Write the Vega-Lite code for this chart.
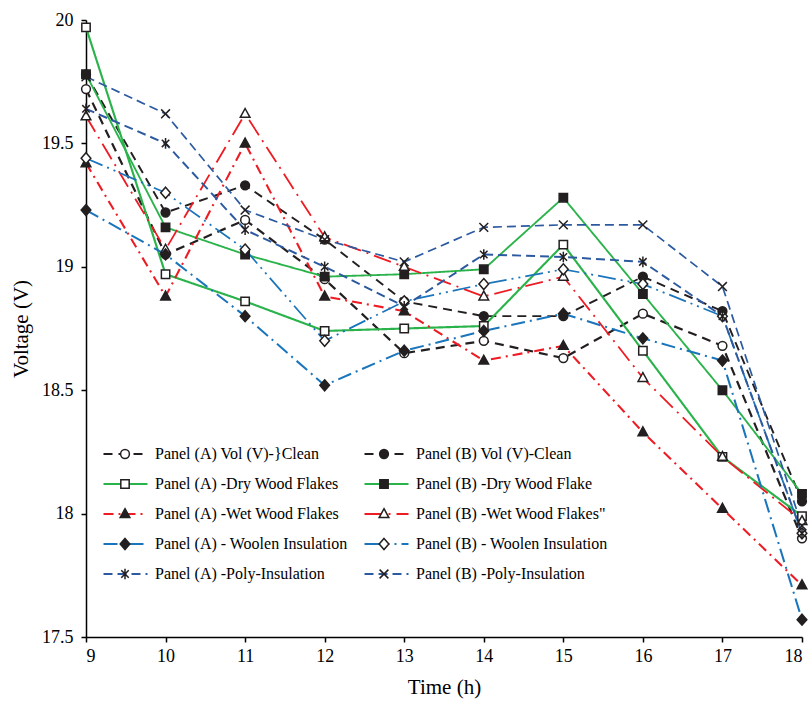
{
  "$schema": "https://vega.github.io/schema/vega-lite/v6.json",
  "width": 716,
  "height": 617,
  "autosize": {"type": "none"},
  "padding": {"left": 86, "top": 20, "right": 10, "bottom": 65},
  "config": {
    "font": "Liberation Serif",
    "view": {"stroke": null},
    "axis": {
      "grid": false,
      "domainColor": "black",
      "domainWidth": 1.5,
      "tickColor": "black",
      "tickWidth": 1.5,
      "tickSize": 5,
      "labelColor": "black",
      "labelFontSize": 18,
      "labelFont": "Liberation Serif",
      "titleColor": "black",
      "titleFont": "Liberation Serif",
      "titleFontSize": 21,
      "titleFontWeight": "normal"
    }
  },
  "data": {
    "values": [
      {"t": 9, "s": "Panel (A) Vol (V)-}Clean", "v": 19.72},
      {"t": 10, "s": "Panel (A) Vol (V)-}Clean", "v": 19.05},
      {"t": 11, "s": "Panel (A) Vol (V)-}Clean", "v": 19.19},
      {"t": 12, "s": "Panel (A) Vol (V)-}Clean", "v": 18.95},
      {"t": 13, "s": "Panel (A) Vol (V)-}Clean", "v": 18.65},
      {"t": 14, "s": "Panel (A) Vol (V)-}Clean", "v": 18.70},
      {"t": 15, "s": "Panel (A) Vol (V)-}Clean", "v": 18.63},
      {"t": 16, "s": "Panel (A) Vol (V)-}Clean", "v": 18.81},
      {"t": 17, "s": "Panel (A) Vol (V)-}Clean", "v": 18.68},
      {"t": 18, "s": "Panel (A) Vol (V)-}Clean", "v": 17.90},
      {"t": 9, "s": "Panel (B) Vol (V)-Clean", "v": 19.78},
      {"t": 10, "s": "Panel (B) Vol (V)-Clean", "v": 19.22},
      {"t": 11, "s": "Panel (B) Vol (V)-Clean", "v": 19.33},
      {"t": 12, "s": "Panel (B) Vol (V)-Clean", "v": 19.11},
      {"t": 13, "s": "Panel (B) Vol (V)-Clean", "v": 18.86},
      {"t": 14, "s": "Panel (B) Vol (V)-Clean", "v": 18.80},
      {"t": 15, "s": "Panel (B) Vol (V)-Clean", "v": 18.80},
      {"t": 16, "s": "Panel (B) Vol (V)-Clean", "v": 18.96},
      {"t": 17, "s": "Panel (B) Vol (V)-Clean", "v": 18.82},
      {"t": 18, "s": "Panel (B) Vol (V)-Clean", "v": 18.05},
      {"t": 9, "s": "Panel (A) -Dry Wood Flakes", "v": 19.97},
      {"t": 10, "s": "Panel (A) -Dry Wood Flakes", "v": 18.97},
      {"t": 11, "s": "Panel (A) -Dry Wood Flakes", "v": 18.86},
      {"t": 12, "s": "Panel (A) -Dry Wood Flakes", "v": 18.74},
      {"t": 13, "s": "Panel (A) -Dry Wood Flakes", "v": 18.75},
      {"t": 14, "s": "Panel (A) -Dry Wood Flakes", "v": 18.76},
      {"t": 15, "s": "Panel (A) -Dry Wood Flakes", "v": 19.09},
      {"t": 16, "s": "Panel (A) -Dry Wood Flakes", "v": 18.66},
      {"t": 17, "s": "Panel (A) -Dry Wood Flakes", "v": 18.23},
      {"t": 18, "s": "Panel (A) -Dry Wood Flakes", "v": 17.99},
      {"t": 9, "s": "Panel (B) -Dry Wood Flake", "v": 19.78},
      {"t": 10, "s": "Panel (B) -Dry Wood Flake", "v": 19.16},
      {"t": 11, "s": "Panel (B) -Dry Wood Flake", "v": 19.05},
      {"t": 12, "s": "Panel (B) -Dry Wood Flake", "v": 18.96},
      {"t": 13, "s": "Panel (B) -Dry Wood Flake", "v": 18.97},
      {"t": 14, "s": "Panel (B) -Dry Wood Flake", "v": 18.99},
      {"t": 15, "s": "Panel (B) -Dry Wood Flake", "v": 19.28},
      {"t": 16, "s": "Panel (B) -Dry Wood Flake", "v": 18.89},
      {"t": 17, "s": "Panel (B) -Dry Wood Flake", "v": 18.50},
      {"t": 18, "s": "Panel (B) -Dry Wood Flake", "v": 18.08},
      {"t": 9, "s": "Panel (A) -Wet Wood Flakes", "v": 19.42},
      {"t": 10, "s": "Panel (A) -Wet Wood Flakes", "v": 18.88},
      {"t": 11, "s": "Panel (A) -Wet Wood Flakes", "v": 19.50},
      {"t": 12, "s": "Panel (A) -Wet Wood Flakes", "v": 18.88},
      {"t": 13, "s": "Panel (A) -Wet Wood Flakes", "v": 18.82},
      {"t": 14, "s": "Panel (A) -Wet Wood Flakes", "v": 18.62},
      {"t": 15, "s": "Panel (A) -Wet Wood Flakes", "v": 18.68},
      {"t": 16, "s": "Panel (A) -Wet Wood Flakes", "v": 18.33},
      {"t": 17, "s": "Panel (A) -Wet Wood Flakes", "v": 18.02},
      {"t": 18, "s": "Panel (A) -Wet Wood Flakes", "v": 17.71},
      {"t": 9, "s": "Panel (B) -Wet Wood Flakes\"", "v": 19.61},
      {"t": 10, "s": "Panel (B) -Wet Wood Flakes\"", "v": 19.07},
      {"t": 11, "s": "Panel (B) -Wet Wood Flakes\"", "v": 19.62},
      {"t": 12, "s": "Panel (B) -Wet Wood Flakes\"", "v": 19.12},
      {"t": 13, "s": "Panel (B) -Wet Wood Flakes\"", "v": 19.00},
      {"t": 14, "s": "Panel (B) -Wet Wood Flakes\"", "v": 18.88},
      {"t": 15, "s": "Panel (B) -Wet Wood Flakes\"", "v": 18.96},
      {"t": 16, "s": "Panel (B) -Wet Wood Flakes\"", "v": 18.55},
      {"t": 17, "s": "Panel (B) -Wet Wood Flakes\"", "v": 18.23},
      {"t": 18, "s": "Panel (B) -Wet Wood Flakes\"", "v": 17.97},
      {"t": 9, "s": "Panel (A) - Woolen Insulation", "v": 19.23},
      {"t": 10, "s": "Panel (A) - Woolen Insulation", "v": 19.05},
      {"t": 11, "s": "Panel (A) - Woolen Insulation", "v": 18.80},
      {"t": 12, "s": "Panel (A) - Woolen Insulation", "v": 18.52},
      {"t": 13, "s": "Panel (A) - Woolen Insulation", "v": 18.66},
      {"t": 14, "s": "Panel (A) - Woolen Insulation", "v": 18.74},
      {"t": 15, "s": "Panel (A) - Woolen Insulation", "v": 18.81},
      {"t": 16, "s": "Panel (A) - Woolen Insulation", "v": 18.71},
      {"t": 17, "s": "Panel (A) - Woolen Insulation", "v": 18.62},
      {"t": 18, "s": "Panel (A) - Woolen Insulation", "v": 17.57},
      {"t": 9, "s": "Panel (B) - Woolen Insulation", "v": 19.44},
      {"t": 10, "s": "Panel (B) - Woolen Insulation", "v": 19.30},
      {"t": 11, "s": "Panel (B) - Woolen Insulation", "v": 19.07},
      {"t": 12, "s": "Panel (B) - Woolen Insulation", "v": 18.70},
      {"t": 13, "s": "Panel (B) - Woolen Insulation", "v": 18.86},
      {"t": 14, "s": "Panel (B) - Woolen Insulation", "v": 18.93},
      {"t": 15, "s": "Panel (B) - Woolen Insulation", "v": 18.99},
      {"t": 16, "s": "Panel (B) - Woolen Insulation", "v": 18.93},
      {"t": 17, "s": "Panel (B) - Woolen Insulation", "v": 18.80},
      {"t": 18, "s": "Panel (B) - Woolen Insulation", "v": 17.92},
      {"t": 9, "s": "Panel (A) -Poly-Insulation", "v": 19.64},
      {"t": 10, "s": "Panel (A) -Poly-Insulation", "v": 19.50},
      {"t": 11, "s": "Panel (A) -Poly-Insulation", "v": 19.15},
      {"t": 12, "s": "Panel (A) -Poly-Insulation", "v": 19.00},
      {"t": 13, "s": "Panel (A) -Poly-Insulation", "v": 18.84},
      {"t": 14, "s": "Panel (A) -Poly-Insulation", "v": 19.05},
      {"t": 15, "s": "Panel (A) -Poly-Insulation", "v": 19.04},
      {"t": 16, "s": "Panel (A) -Poly-Insulation", "v": 19.02},
      {"t": 17, "s": "Panel (A) -Poly-Insulation", "v": 18.80},
      {"t": 18, "s": "Panel (A) -Poly-Insulation", "v": 17.92},
      {"t": 9, "s": "Panel (B) -Poly-Insulation", "v": 19.77},
      {"t": 10, "s": "Panel (B) -Poly-Insulation", "v": 19.62},
      {"t": 11, "s": "Panel (B) -Poly-Insulation", "v": 19.23},
      {"t": 12, "s": "Panel (B) -Poly-Insulation", "v": 19.11},
      {"t": 13, "s": "Panel (B) -Poly-Insulation", "v": 19.02},
      {"t": 14, "s": "Panel (B) -Poly-Insulation", "v": 19.16},
      {"t": 15, "s": "Panel (B) -Poly-Insulation", "v": 19.17},
      {"t": 16, "s": "Panel (B) -Poly-Insulation", "v": 19.17},
      {"t": 17, "s": "Panel (B) -Poly-Insulation", "v": 18.92},
      {"t": 18, "s": "Panel (B) -Poly-Insulation", "v": 17.95}
    ]
  },
  "encoding": {
    "x": {
      "field": "t",
      "type": "quantitative",
      "title": "Time (h)",
      "scale": {"domain": [9, 18], "nice": false, "zero": false},
      "axis": {"values": [9, 10, 11, 12, 13, 14, 15, 16, 17, 18], "labelPadding": 5, "titlePadding": 11}
    },
    "y": {
      "field": "v",
      "type": "quantitative",
      "title": "Voltage (V)",
      "scale": {"domain": [17.5, 20], "nice": false, "zero": false},
      "axis": {"values": [17.5, 18, 18.5, 19, 19.5, 20], "format": ".1~f", "labelPadding": 8, "titlePadding": 10}
    }
  },
  "layer": [
    {
      "mark": {"type": "line"},
      "encoding": {
        "color": {
          "field": "s",
          "type": "nominal",
          "scale": {
            "domain": ["Panel (A) Vol (V)-}Clean", "Panel (A) -Dry Wood Flakes", "Panel (A) -Wet Wood Flakes", "Panel (A) - Woolen Insulation", "Panel (A) -Poly-Insulation", "Panel (B) Vol (V)-Clean", "Panel (B) -Dry Wood Flake", "Panel (B) -Wet Wood Flakes\"", "Panel (B) - Woolen Insulation", "Panel (B) -Poly-Insulation"],
            "range": ["#231f20", "#2bb34b", "#ed1c24", "#1b75bb", "#2c5aa0", "#231f20", "#2bb34b", "#ed1c24", "#1b75bb", "#2c5aa0"]
          },
          "legend": {"orient": "none", "legendX": 16, "legendY": 419, "columns": 2, "symbolType": "stroke", "symbolSize": 1936, "symbolStrokeWidth": 2.2, "clipHeight": 30, "rowPadding": 0, "columnPadding": 15, "labelOffset": 6, "labelFontSize": 16, "labelFont": "Liberation Serif", "labelColor": "black", "labelLimit": 300, "title": null, "padding": 0}
        },
        "strokeDash": {
          "field": "s",
          "type": "nominal",
          "scale": {
            "domain": ["Panel (A) Vol (V)-}Clean", "Panel (A) -Dry Wood Flakes", "Panel (A) -Wet Wood Flakes", "Panel (A) - Woolen Insulation", "Panel (A) -Poly-Insulation", "Panel (B) Vol (V)-Clean", "Panel (B) -Dry Wood Flake", "Panel (B) -Wet Wood Flakes\"", "Panel (B) - Woolen Insulation", "Panel (B) -Poly-Insulation"],
            "range": [[9, 6], [1, 0], [10, 5, 2, 5], [14, 5, 2, 5], [9, 5], [9, 6], [1, 0], [18, 6, 2, 6], [18, 5, 2, 5, 2, 5], [9, 5]]
          },
          "legend": {"orient": "none", "legendX": 16, "legendY": 419, "columns": 2, "symbolType": "stroke", "symbolSize": 1936, "symbolStrokeWidth": 2.2, "clipHeight": 30, "rowPadding": 0, "columnPadding": 15, "labelOffset": 6, "labelFontSize": 16, "labelFont": "Liberation Serif", "labelColor": "black", "labelLimit": 300, "title": null, "padding": 0}
        },
        "strokeWidth": {
          "field": "s",
          "type": "ordinal",
          "scale": {
            "domain": ["Panel (A) Vol (V)-}Clean", "Panel (A) -Dry Wood Flakes", "Panel (A) -Wet Wood Flakes", "Panel (A) - Woolen Insulation", "Panel (A) -Poly-Insulation", "Panel (B) Vol (V)-Clean", "Panel (B) -Dry Wood Flake", "Panel (B) -Wet Wood Flakes\"", "Panel (B) - Woolen Insulation", "Panel (B) -Poly-Insulation"],
            "range": [2.2, 1.7, 2.2, 2.5, 3.8, 2.2, 1.7, 2.2, 2.5, 3.8]
          },
          "legend": null
        }
      }
    },
    {
      "mark": {"type": "point", "filled": true, "strokeWidth": 1.5, "size": 1936, "opacity": 1},
      "encoding": {
        "shape": {
          "field": "s",
          "type": "nominal",
          "scale": {
            "domain": ["Panel (A) Vol (V)-}Clean", "Panel (A) -Dry Wood Flakes", "Panel (A) -Wet Wood Flakes", "Panel (A) - Woolen Insulation", "Panel (A) -Poly-Insulation", "Panel (B) Vol (V)-Clean", "Panel (B) -Dry Wood Flake", "Panel (B) -Wet Wood Flakes\"", "Panel (B) - Woolen Insulation", "Panel (B) -Poly-Insulation"],
            "range": [
              "M0.2,0A0.2,0.2,0,1,1,-0.2,0A0.2,0.2,0,1,1,0.2,0Z",
              "M-0.19,-0.19H0.19V0.19H-0.19Z",
              "M0,-0.24L0.22,0.16H-0.22Z",
              "M0,-0.25L0.22,0L0,0.25L-0.22,0Z",
              "M-0.17,-0.17L0.17,0.17M-0.17,0.17L0.17,-0.17M0,-0.24V0.24",
              "M0.2,0A0.2,0.2,0,1,1,-0.2,0A0.2,0.2,0,1,1,0.2,0Z",
              "M-0.19,-0.19H0.19V0.19H-0.19Z",
              "M0,-0.24L0.22,0.16H-0.22Z",
              "M0,-0.25L0.22,0L0,0.25L-0.22,0Z",
              "M-0.2,-0.2L0.2,0.2M-0.2,0.2L0.2,-0.2"
            ]
          },
          "legend": {"orient": "none", "legendX": 16, "legendY": 419, "columns": 2, "symbolSize": 1936, "symbolStrokeWidth": 1.5, "clipHeight": 30, "rowPadding": 0, "columnPadding": 207, "labelOffset": 6, "labelFontSize": 16, "labelExpr": "''", "labelLimit": 300, "title": null, "padding": 0}
        },
        "fill": {
          "field": "s",
          "type": "nominal",
          "scale": {
            "domain": ["Panel (A) Vol (V)-}Clean", "Panel (A) -Dry Wood Flakes", "Panel (A) -Wet Wood Flakes", "Panel (A) - Woolen Insulation", "Panel (A) -Poly-Insulation", "Panel (B) Vol (V)-Clean", "Panel (B) -Dry Wood Flake", "Panel (B) -Wet Wood Flakes\"", "Panel (B) - Woolen Insulation", "Panel (B) -Poly-Insulation"],
            "range": ["white", "white", "#231f20", "#231f20", "#231f20", "#231f20", "#231f20", "white", "white", "#231f20"]
          },
          "legend": {"orient": "none", "legendX": 16, "legendY": 419, "columns": 2, "symbolSize": 1936, "symbolStrokeWidth": 1.5, "clipHeight": 30, "rowPadding": 0, "columnPadding": 207, "labelOffset": 6, "labelFontSize": 16, "labelExpr": "''", "labelLimit": 300, "title": null, "padding": 0}
        },
        "stroke": {
          "field": "s",
          "type": "nominal",
          "scale": {
            "domain": ["Panel (A) Vol (V)-}Clean", "Panel (A) -Dry Wood Flakes", "Panel (A) -Wet Wood Flakes", "Panel (A) - Woolen Insulation", "Panel (A) -Poly-Insulation", "Panel (B) Vol (V)-Clean", "Panel (B) -Dry Wood Flake", "Panel (B) -Wet Wood Flakes\"", "Panel (B) - Woolen Insulation", "Panel (B) -Poly-Insulation"],
            "range": ["#231f20", "#231f20", "#231f20", "#231f20", "#231f20", "#231f20", "#231f20", "#231f20", "#231f20", "#231f20"]
          },
          "legend": {"orient": "none", "legendX": 16, "legendY": 419, "columns": 2, "symbolSize": 1936, "symbolStrokeWidth": 1.5, "clipHeight": 30, "rowPadding": 0, "columnPadding": 207, "labelOffset": 6, "labelFontSize": 16, "labelExpr": "''", "labelLimit": 300, "title": null, "padding": 0}
        }
      }
    }
  ],
  "resolve": {"legend": {"color": "independent", "strokeDash": "independent", "shape": "independent", "fill": "independent", "stroke": "independent"}}
}
